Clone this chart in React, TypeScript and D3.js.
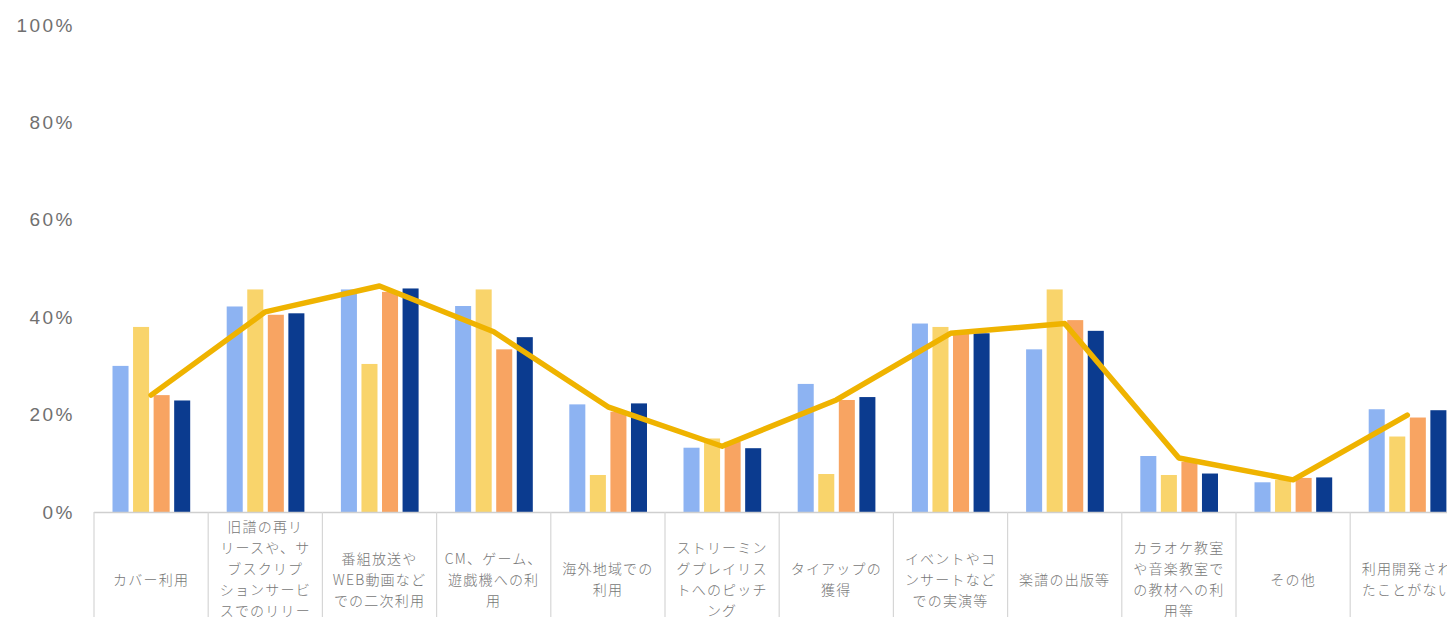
import React from "react";
import * as d3 from "d3";

const categories: string[][] = [
  ["カバー利用"],
  ["旧譜の再リ", "リースや、サ", "ブスクリプ", "ションサービ", "スでのリリー", "ス"],
  ["番組放送や", "WEB動画など", "での二次利用"],
  ["CM、ゲーム、", "遊戯機への利", "用"],
  ["海外地域での", "利用"],
  ["ストリーミン", "グプレイリス", "トへのピッチ", "ング"],
  ["タイアップの", "獲得"],
  ["イベントやコ", "ンサートなど", "での実演等"],
  ["楽譜の出版等"],
  ["カラオケ教室", "や音楽教室で", "の教材への利", "用等"],
  ["その他"],
  ["利用開発され", "たことがない"],
];

const seriesA = [30.0, 42.2, 45.7, 42.3, 22.1, 13.2, 26.3, 38.7, 33.4, 11.5, 6.1, 21.1];
const seriesB = [38.0, 45.7, 30.4, 45.7, 7.6, 15.1, 7.8, 38.0, 45.7, 7.6, 6.6, 15.5];
const seriesC = [24.0, 40.5, 45.2, 33.4, 20.6, 14.4, 23.0, 36.7, 39.4, 10.3, 7.0, 19.4];
const seriesD = [22.9, 40.8, 45.9, 35.9, 22.3, 13.1, 23.6, 36.7, 37.2, 7.9, 7.1, 20.9];
const lineValues = [24.0, 41.1, 46.4, 37.0, 21.6, 13.5, 23.0, 36.7, 38.7, 11.1, 6.6, 19.9];

const yTicks = [0, 20, 40, 60, 80, 100];
const barColors = ["#8DB3F2", "#F9D46B", "#F8A462", "#0B3B8F"];
const lineColor = "#EFB300";

export default function App() {
  const W = 1447;
  const H = 617;
  const x0 = 94;
  const cellW = 114.2;
  const n = categories.length;
  const y = d3.scaleLinear().domain([0, 100]).range([512, 25]);
  const x = d3
    .scaleBand<number>()
    .domain(d3.range(n))
    .range([x0, x0 + cellW * n])
    .padding(0);
  const xi = d3
    .scaleBand<number>()
    .domain([0, 1, 2, 3])
    .range([18.5, 96.2])
    .paddingInner(0.22)
    .paddingOuter(0);
  const series = [seriesA, seriesB, seriesC, seriesD];
  const line = d3
    .line<number>()
    .x((_, i) => (x(i) as number) + x.bandwidth() / 2)
    .y((d) => y(d));

  const lineH = 21;
  const labelCenter = 580;

  return (
    <div style={{ position: "absolute", left: 0, top: 0, width: W, height: H, overflow: "hidden", background: "#fff" }}>
      <svg width={W} height={H} style={{ display: "block" }}>
        {yTicks.map((t) => (
          <text
            key={t}
            x={75}
            y={y(t)}
            dy="0.35em"
            textAnchor="end"
            fontFamily="'Liberation Sans', Arial, sans-serif"
            fontSize={19}
            letterSpacing={2.5}
            fill="#707070"
          >
            {t}%
          </text>
        ))}
        {series.map((s, si) =>
          s.map((v, ci) => (
            <rect
              key={`${si}-${ci}`}
              x={(x(ci) as number) + (xi(si) as number)}
              y={y(v)}
              width={xi.bandwidth()}
              height={y(0) - y(v)}
              fill={barColors[si]}
            />
          ))
        )}
        <path
          d={line(lineValues) || ""}
          fill="none"
          stroke={lineColor}
          strokeWidth={5.5}
          strokeLinejoin="round"
          strokeLinecap="round"
        />
        <line x1={x0} x2={W} y1={y(0) + 0.5} y2={y(0) + 0.5} stroke="#cfcfcf" strokeWidth={1.5} />
        {d3.range(n + 1).map((i) => (
          <line
            key={`v${i}`}
            x1={x0 + i * cellW}
            x2={x0 + i * cellW}
            y1={y(0)}
            y2={H}
            stroke="#d6d6d6"
            strokeWidth={1.2}
          />
        ))}
        {categories.map((lines, ci) => {
          const cx = (x(ci) as number) + x.bandwidth() / 2;
          const start = labelCenter - ((lines.length - 1) * lineH) / 2;
          return (
            <text
              key={`l${ci}`}
              textAnchor="middle"
              fontFamily="'Noto Sans CJK JP', sans-serif"
              fontSize={14}
              fontWeight={300}
              letterSpacing={1.2}
              fill="#777"
            >
              {lines.map((ln, li) => (
                <tspan key={li} x={cx} y={start + li * lineH} dy="0.35em">
                  {ln}
                </tspan>
              ))}
            </text>
          );
        })}
      </svg>
    </div>
  );
}
